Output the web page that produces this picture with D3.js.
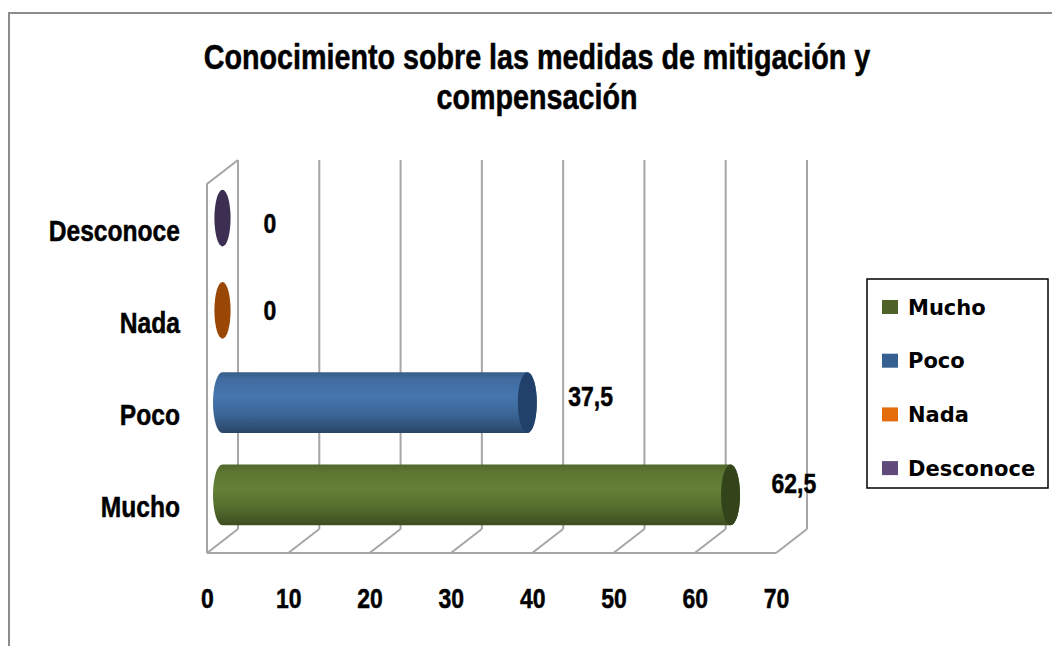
<!DOCTYPE html>
<html>
<head>
<meta charset="utf-8">
<script src="https://cdn.jsdelivr.net/npm/d3@7"></script>
<style>
  body { margin: 0; background: #fff; }
  svg { display: block; }
</style>
</head>
<body>
<div id="chart"></div>
<script>
// data
let categories = ["Mucho", "Poco", "Nada", "Desconoce"];
let values = [62.5, 37.5, 0, 0];
let valueLabels = ["62,5", "37,5", "0", "0"];
let xTicks = [0, 10, 20, 30, 40, 50, 60, 70];
let titleLines = ["Conocimiento sobre las medidas de mitigación y", "compensación"];
let legendColors = ["#4f6228", "#376092", "#e46c0a", "#604a7b"];
let barColors = ["#5f7a33", "#4270a6", "#a34c06", "#433559"];
let capColors = ["#33431a", "#22416a", "#9a4605", "#3c2f52"];

let width = 1052, height = 646;
let condensed = "'Liberation Sans', Arial, sans-serif";
let squeeze = 0.82; // no narrow font installed, so squeeze the glyphs

// shrink text horizontally, like Arial Narrow
function narrow(sel) {
  sel.each(function() {
    let w = this.getComputedTextLength();
    d3.select(this)
      .attr("textLength", w * squeeze)
      .attr("lengthAdjust", "spacingAndGlyphs")
      .attr("stroke", "#000")
      .attr("stroke-width", 0.5);
  });
}

// 3D box: back wall and floor, depth offset
let depth = { dx: 31, dy: 24 };
let plot = { left: 238, right: 807, top: 160, bottom: 529 };

// x scale at mid depth (where the cylinders sit)
let x = d3.scaleLinear()
  .domain([0, 70])
  .range([plot.left - depth.dx / 2, plot.right - depth.dx / 2]);
let xBack = v => x(v) + depth.dx / 2;
let xFront = d3.scaleLinear()
  .domain([0, 70])
  .range([plot.left - depth.dx, plot.right - depth.dx]);

let y = d3.scaleBand()
  .domain(categories)
  .range([plot.bottom + depth.dy / 2, plot.top + depth.dy / 2])
  .paddingInner(0.34)
  .paddingOuter(0.17);

const svg = d3.select("#chart").append("svg")
  .attr("width", width)
  .attr("height", height)
  .attr("viewBox", [0, 0, width, height]);

// outer frame
svg.append("path")
  .attr("d", `M9,${height + 5} V13 H${width + 5}`)
  .attr("fill", "none")
  .attr("stroke", "#8c8c8c")
  .attr("stroke-width", 2);

// gradients for cylinders
let defs = svg.append("defs");
categories.forEach(function(c, i) {
  let base = d3.color(barColors[i]);
  let g = defs.append("linearGradient")
    .attr("id", "grad" + i)
    .attr("x1", 0).attr("y1", 0).attr("x2", 0).attr("y2", 1);
  g.append("stop").attr("offset", "0%").attr("stop-color", base.darker(0.5));
  g.append("stop").attr("offset", "12%").attr("stop-color", base.darker(0.1));
  g.append("stop").attr("offset", "40%").attr("stop-color", base.brighter(0.15));
  g.append("stop").attr("offset", "70%").attr("stop-color", base.darker(0.3));
  g.append("stop").attr("offset", "100%").attr("stop-color", base.darker(1.3));
});

// walls and gridlines
let grid = svg.append("g")
  .attr("fill", "none")
  .attr("stroke", "#a6a6a6")
  .attr("stroke-width", 2);

grid.selectAll(".vline")
  .data(xTicks)
  .join("line")
    .attr("class", "vline")
    .attr("x1", d => xBack(d)).attr("x2", d => xBack(d))
    .attr("y1", plot.top).attr("y2", plot.bottom);

grid.selectAll(".floor")
  .data(xTicks)
  .join("line")
    .attr("class", "floor")
    .attr("x1", d => xBack(d)).attr("y1", plot.bottom)
    .attr("x2", d => xFront(d)).attr("y2", plot.bottom + depth.dy);

grid.append("line")
  .attr("x1", xFront(0)).attr("x2", xFront(70))
  .attr("y1", plot.bottom + depth.dy).attr("y2", plot.bottom + depth.dy);

// left side wall
grid.append("path")
  .attr("d", `M${xFront(0)},${plot.bottom + depth.dy} V${plot.top + depth.dy} L${xBack(0)},${plot.top}`);

// cylinders
let bars = svg.append("g")
  .selectAll("g")
  .data(categories.map((c, i) => ({ cat: c, value: values[i], i: i })))
  .join("g");

let rx = 9.5;
bars.each(function(d) {
  let g = d3.select(this);
  let x0 = x(0), x1 = x(d.value);
  let top = y(d.cat), bot = y(d.cat) + y.bandwidth();
  let ry = y.bandwidth() / 2;
  if (d.value > 0) {
    g.append("path")
      .attr("d", `M${x0},${top} L${x1},${top} A${rx},${ry} 0 0 1 ${x1},${bot} L${x0},${bot} A${rx},${ry} 0 0 1 ${x0},${top} Z`)
      .attr("fill", `url(#grad${d.i})`);
    g.append("ellipse")
      .attr("cx", x1).attr("cy", top + ry)
      .attr("rx", rx).attr("ry", ry)
      .attr("fill", capColors[d.i]);
  } else {
    g.append("ellipse")
      .attr("cx", x0).attr("cy", top + ry)
      .attr("rx", rx * 0.85).attr("ry", ry * 0.93)
      .attr("fill", capColors[d.i]);
  }
});

// value labels (seen in perspective: slightly pulled toward the middle)
let labelY = d => (y(d) + y.bandwidth() / 2) * 0.94 + 18;
svg.append("g")
  .selectAll("text")
  .data(categories.map((c, i) => ({ cat: c, label: valueLabels[i], value: values[i] })))
  .join("text")
    .attr("x", d => x(d.value) + 41)
    .attr("y", d => labelY(d.cat))
    .attr("dy", "0.35em")
    .attr("font-family", condensed)
    .attr("font-weight", "bold")
    .attr("font-size", 28)
    .text(d => d.label)
    .call(narrow);

// category labels
svg.append("g")
  .selectAll("text")
  .data(categories)
  .join("text")
    .attr("x", 180)
    .attr("y", d => y(d) + y.bandwidth() / 2 + 12)
    .attr("dy", "0.35em")
    .attr("text-anchor", "end")
    .attr("font-family", condensed)
    .attr("font-weight", "bold")
    .attr("font-size", 30)
    .text(d => d)
    .call(narrow);

// x axis labels
let xAxis = g => g
  .attr("transform", `translate(0,${598})`)
  .call(d3.axisBottom(xFront).tickValues(xTicks).tickSize(0).tickPadding(0))
  .call(g => g.select(".domain").remove())
  .call(g => g.selectAll("text")
    .attr("dy", "0.35em")
    .attr("fill", "#000")
    .attr("font-family", condensed)
    .attr("font-weight", "bold")
    .attr("font-size", 28)
    .call(narrow));
svg.append("g").call(xAxis);

// title
svg.append("g")
  .selectAll("text")
  .data(titleLines)
  .join("text")
    .attr("x", 537)
    .attr("y", (d, i) => 57 + i * 40)
    .attr("dy", "0.35em")
    .attr("text-anchor", "middle")
    .attr("font-family", condensed)
    .attr("font-weight", "bold")
    .attr("font-size", 35)
    .text(d => d)
    .call(narrow);

// legend
let legend = svg.append("g").attr("transform", "translate(867,279)");
legend.append("rect")
  .attr("width", 181).attr("height", 209)
  .attr("fill", "#fff")
  .attr("stroke", "#000")
  .attr("stroke-width", 1.5);
let items = legend.selectAll(".item")
  .data(categories)
  .join("g")
    .attr("class", "item")
    .attr("transform", (d, i) => `translate(0,${28 + i * 53.7})`);
items.append("rect")
  .attr("x", 15).attr("y", -7)
  .attr("width", 16).attr("height", 14)
  .attr("fill", (d, i) => legendColors[i]);
items.append("text")
  .attr("x", 41)
  .attr("dy", "0.36em")
  .attr("font-family", "'DejaVu Sans', sans-serif")
  .attr("font-weight", "bold")
  .attr("font-size", 21)
  .text(d => d);
</script>
</body>
</html>
